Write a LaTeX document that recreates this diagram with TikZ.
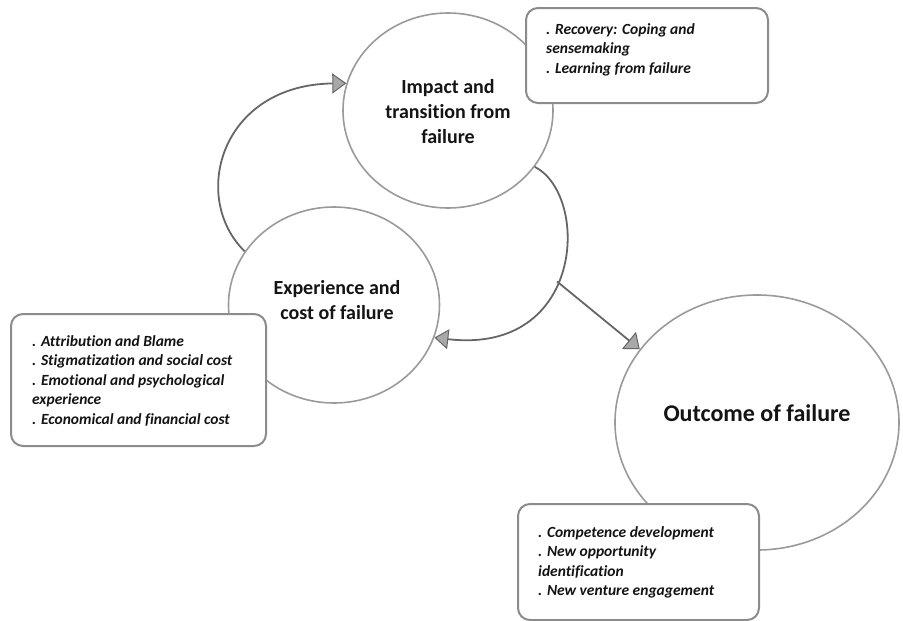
\documentclass[tikz,border=0pt]{standalone}
\usepackage{fontspec}
\setmainfont{Carlito}[Ligatures=NoCommon]
\usetikzlibrary{shapes.geometric,arrows.meta}
\definecolor{ellcol}{HTML}{9A9A9A}
\definecolor{boxcol}{HTML}{8C8C8C}
\definecolor{conncol}{HTML}{666666}
\definecolor{arrfill}{HTML}{A8A8A8}
\definecolor{txtcol}{HTML}{141414}
\tikzset{
  stage/.style={ellipse, draw=ellcol, line width=1.6pt, inner sep=0pt, fill=white},
  stagetext/.style={align=center, font=\fontsize{20}{25}\selectfont\bfseries, text=txtcol, inner sep=0pt},
  infobox/.style={rectangle, rounded corners=12pt, draw=boxcol, line width=2pt, fill=white, anchor=north west, inner sep=0pt},
  infotext/.style={align=left, anchor=north west, inner sep=0pt, text=txtcol, font=\fontsize{15.5}{19.5}\selectfont\bfseries\itshape},
  conn/.style={draw=conncol, line width=1.8pt, -{Triangle[length=14pt,width=20pt,fill=arrfill,line width=1pt]}},
  connplain/.style={draw=conncol, line width=1.8pt},
}
\begin{document}
\begin{tikzpicture}[x=1pt,y=-1pt]
\useasboundingbox (0,0) rectangle (903,621);
% ellipses
\node[stage, minimum width=210pt, minimum height=195pt] (imp) at (448,110.5) {};
\node[stage, minimum width=211pt, minimum height=196pt] (exp) at (334,305) {};
\node[stage, minimum width=284pt, minimum height=255pt] (out) at (757,422.5) {};
\node[stagetext] (impt) at (448,112) {Impact and\\transition from\\failure};
\node[stagetext] (expt) at (337,300) {Experience and\\cost of failure};
\node[stagetext, font=\fontsize{24}{29}\selectfont\bfseries] (outt) at (757,413) {Outcome of failure};
% connectors
\draw[conn] (exp.149) .. controls (190,198) and (220,85) .. (imp.165);
\draw[conn] (imp.-33) .. controls (590,195) and (585,355) .. coordinate[pos=0.55] (mid) (exp.-18);
\draw[connplain, -{Triangle[length=14pt,width=22pt,fill=arrfill,line width=1pt]}] (mid) -- (out.148);
% boxes
\node[infobox, minimum width=242pt, minimum height=95pt] (trbox) at (525,7) {};
\node[infotext] (trtext) at (546,23) {. Recovery: Coping and\\sensemaking\\. Learning from failure};
\node[infobox, minimum width=255pt, minimum height=132pt] (lbox) at (10,313) {};
\node[infotext] (ltext) at (32,335) {. Attribution and Blame\\. Stigmatization and social cost\\. Emotional and psychological\\experience\\. Economical and financial cost};
\node[infobox, minimum width=241pt, minimum height=116pt] (bbox) at (517,503) {};
\node[infotext] (btext) at (538,526) {. Competence development\\. New opportunity\\identification\\. New venture engagement};
\end{tikzpicture}
\end{document}
